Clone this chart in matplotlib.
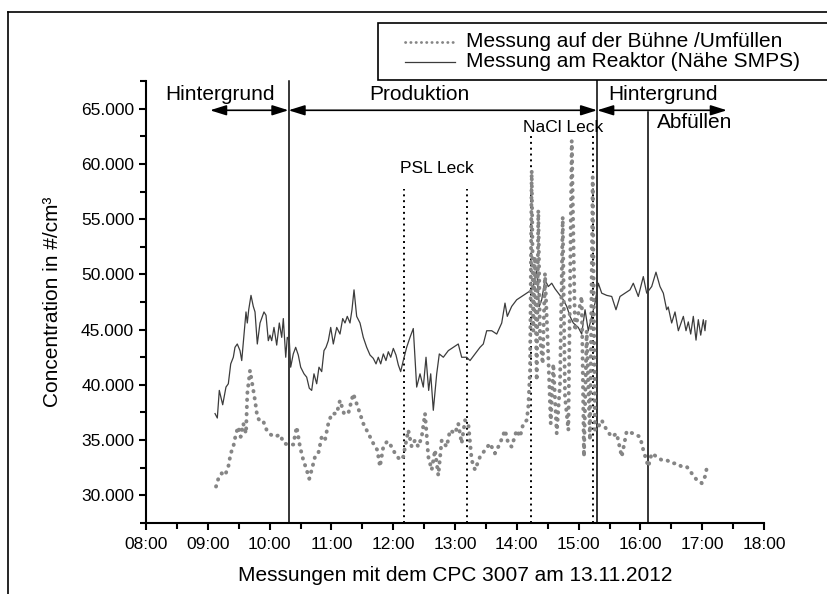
import matplotlib
matplotlib.use("Agg")
import matplotlib.pyplot as plt
from matplotlib.ticker import MultipleLocator, FuncFormatter
from matplotlib.lines import Line2D
from matplotlib.patches import Rectangle

plt.rcParams['font.family'] = ['Liberation Sans', 'DejaVu Sans']

# ---------------- data ----------------
reaktor_t = [9.117, 9.154, 9.186, 9.241, 9.294, 9.332, 9.371, 9.413, 9.440, 9.477, 9.521, 9.549, 9.586,
             9.618, 9.639, 9.662, 9.699, 9.736, 9.764, 9.801, 9.845, 9.909, 9.942, 9.979, 10.006, 10.034,
             10.071, 10.115, 10.157, 10.196, 10.222, 10.261, 10.286, 10.319, 10.341, 10.383, 10.422, 10.464,
             10.503, 10.557, 10.600, 10.642, 10.681, 10.718, 10.762, 10.799, 10.843, 10.880, 10.913, 10.950,
             10.989, 11.031, 11.086, 11.139, 11.183, 11.220, 11.257, 11.301, 11.333, 11.366, 11.409, 11.463,
             11.516, 11.571, 11.625, 11.678, 11.722, 11.759, 11.798, 11.840, 11.883, 11.921, 11.960, 12.002,
             12.045, 12.083, 12.121, 12.163, 12.218, 12.272, 12.325, 12.380, 12.434, 12.487, 12.531, 12.574,
             12.607, 12.649, 12.704, 12.746, 12.811, 12.892, 12.972, 13.053, 13.108, 13.189, 13.243, 13.324,
             13.405, 13.458, 13.513, 13.594, 13.675, 13.756, 13.809, 13.846, 13.917, 13.998, 14.079, 14.160,
             14.241, 14.267, 14.322, 14.364, 14.403, 14.456, 14.510, 14.565, 14.618, 14.672, 14.753, 14.808,
             14.861, 14.914, 14.995, 15.050, 15.104, 15.157, 15.212, 15.265, 15.319, 15.374, 15.455, 15.536,
             15.605, 15.670, 15.751, 15.832, 15.885, 15.966, 16.047, 16.102, 16.183, 16.252, 16.317, 16.371,
             16.425, 16.450, 16.506, 16.560, 16.614, 16.695, 16.738, 16.775, 16.814, 16.856, 16.900, 16.937,
             16.976, 17.018, 17.045, 17.060]
reaktor_v = [37.4, 37.0, 39.5, 38.2, 39.8, 40.1, 41.9, 42.5, 43.4, 43.7, 43.1, 42.2, 44.5,
             46.6, 45.6, 46.8, 48.1, 47.1, 46.6, 43.7, 45.6, 46.6, 46.3, 44.0, 44.5, 44.0,
             45.2, 43.6, 45.6, 44.3, 46.0, 42.5, 44.3, 44.0, 41.6, 42.8, 43.4, 42.7,
             41.6, 41.0, 40.7, 39.7, 39.5, 41.0, 40.1, 41.6, 41.2, 43.1, 43.4, 44.0,
             45.2, 43.7, 45.2, 44.6, 46.0, 45.6, 46.2, 45.6, 46.8, 48.6, 46.2, 45.6,
             44.3, 43.4, 42.7, 42.4, 41.9, 42.5, 41.9, 42.8, 42.2, 43.0, 42.5, 43.3,
             42.7, 41.8, 41.2, 42.2, 43.4, 44.3, 45.1, 39.8, 41.0, 39.8, 42.5, 39.5,
             41.0, 37.7, 41.0, 42.8, 42.5, 43.1, 43.4, 43.7, 42.5, 42.5, 42.2, 42.8,
             43.4, 43.7, 44.9, 44.9, 44.6, 45.6, 47.4, 46.2, 47.1, 47.7, 48.0, 48.3,
             48.6, 48.9, 50.4, 47.1, 47.7, 49.5, 48.9, 49.2, 48.7, 48.3, 47.7, 47.1,
             46.2, 45.6, 45.2, 44.6, 46.8, 44.9, 46.2, 47.4, 49.2, 48.3, 48.1, 48.0,
             46.8, 48.0, 48.3, 48.6, 49.2, 48.0, 49.8, 48.3, 48.9, 50.2, 48.9, 48.3,
             46.8, 47.05, 45.6, 46.6, 44.9, 46.2, 44.9, 45.7, 44.6, 46.2, 44.05, 45.9,
             44.5, 45.9, 44.9, 45.8]

buehne_t = [9.133, 9.170, 9.225, 9.278, 9.332, 9.371, 9.413, 9.456, 9.494, 9.532, 9.574, 9.618, 9.639,
            9.683, 9.727, 9.764, 9.801, 9.845, 9.898, 9.953, 10.018, 10.087, 10.168, 10.233, 10.303,
            10.383, 10.438, 10.492, 10.545, 10.600, 10.642, 10.681, 10.735, 10.788, 10.843, 10.896,
            10.950, 11.005, 11.086, 11.139, 11.204, 11.273, 11.354, 11.409, 11.463, 11.516, 11.571,
            11.625, 11.678, 11.743, 11.786, 11.840, 11.904, 11.976, 12.029, 12.110, 12.163, 12.244,
            12.299, 12.353, 12.406, 12.461, 12.515, 12.568, 12.623, 12.676, 12.730, 12.785, 12.866,
            12.919, 13.000, 13.053, 13.108, 13.162, 13.215, 13.270, 13.324, 13.405, 13.485, 13.566,
            13.647, 13.728, 13.809, 13.862, 13.917, 13.998, 14.052, 14.105, 14.160, 14.186, 14.214,
            14.241, 14.267, 14.294, 14.322, 14.348, 14.375, 14.419, 14.456, 14.510, 14.549, 14.591,
            14.646, 14.699, 14.743, 14.780, 14.834, 14.889, 14.942, 14.995, 15.050, 15.087, 15.131,
            15.184, 15.228, 15.265, 15.319, 15.374, 15.455, 15.536, 15.617, 15.698, 15.778, 15.885,
            15.994, 16.047, 16.128, 16.183, 16.264, 16.344, 16.425, 16.506, 16.587, 16.668, 16.749,
            16.830, 16.911, 16.992, 17.045, 17.083]
buehne_v = [30.8, 31.5, 32.0, 31.8, 32.6, 33.8, 34.4, 35.6, 36.2, 35.3, 36.5, 35.6, 39.2,
            41.3, 39.8, 38.6, 37.1, 36.7, 36.7, 35.9, 35.5, 35.3, 35.5, 34.7, 34.6,
            34.6, 36.2, 34.4, 33.2, 32.3, 31.5, 32.3, 33.5, 33.8, 35.3, 35.0,
            36.5, 37.4, 37.4, 38.6, 37.4, 37.4, 39.2, 38.3, 37.4, 36.5, 35.9,
            35.3, 34.7, 34.1, 32.6, 34.4, 34.9, 34.4, 33.8, 33.2, 33.5, 35.9,
            34.4, 35.0, 34.4, 35.3, 37.4, 33.5, 32.3, 34.1, 31.8, 35.0, 34.4,
            35.9, 35.6, 36.5, 34.7, 36.8, 36.5, 33.2, 32.3, 33.5, 34.1, 34.7,
            33.8, 34.7, 35.9, 34.7, 34.4, 35.9, 35.3, 36.5, 36.8, 38.0, 41.3,
            59.4, 44.9, 51.6, 40.4, 55.8, 44.3, 41.9, 50.1, 42.5, 36.5, 41.9,
            35.6, 40.1, 55.2, 38.9, 35.9, 62.1, 44.9, 46.4, 48.0, 33.5, 44.9,
            35.0, 58.8, 35.9, 36.2, 36.8, 35.9, 35.3, 35.6, 33.5, 35.8, 35.6,
            35.3, 34.1, 32.6, 33.8, 33.5, 33.2, 33.2, 32.9, 32.9, 32.6, 32.6,
            32.0, 31.4, 31.1, 31.7, 32.7]

series_labels = ["Messung auf der Bühne /Umfüllen", "Messung am Reaktor (Nähe SMPS)"]

# event markers (time in hours)
solid_events = [10.306, 15.30, 16.123]
dotted_events = [12.175, 13.194, 14.23, 15.233]
phase_names = ["Hintergrund", "Produktion", "Hintergrund"]
phase_bounds = [(9.036, 10.306), (10.306, 15.30), (15.30, 17.40)]
phase_text_x = [9.197, 12.43, 16.37]

xticks_h = list(range(8, 19))
yticks_v = list(range(30000, 70000, 5000))

# ---------------- figure ----------------
W, H = 827, 594
fig = plt.figure(figsize=(W / 100, H / 100), dpi=100)
ax = fig.add_axes([146 / W, 1 - 523 / H, (764 - 146) / W, (523 - 81) / H])

ax.plot(reaktor_t, [v * 1000 for v in reaktor_v], color='#3c3c3c', lw=0.9, zorder=3)
ax.plot(buehne_t, [v * 1000 for v in buehne_v], color='#858585', lw=2.8,
        linestyle=(0, (0.1, 1.75)), dash_capstyle='round', zorder=4)

ax.set_xlim(8, 18)
ax.set_ylim(27500, 67500)

for s in ['top', 'right']:
    ax.spines[s].set_visible(False)
for s in ['left', 'bottom']:
    ax.spines[s].set_linewidth(1.5)

ax.set_xticks(xticks_h)
ax.xaxis.set_minor_locator(MultipleLocator(0.5))
ax.xaxis.set_major_formatter(FuncFormatter(lambda v, p: "%02d:00" % int(round(v))))
ax.set_yticks(yticks_v)
ax.yaxis.set_minor_locator(MultipleLocator(2500))
ax.yaxis.set_major_formatter(FuncFormatter(lambda v, p: f"{v:,.0f}".replace(",", ".")))
ax.tick_params(axis='both', which='major', direction='out', length=5, width=1.5, labelsize=12.5)
ax.tick_params(axis='both', which='minor', direction='out', length=4, width=1.5)
ax.tick_params(axis='x', which='major', pad=5)

ax.set_xlabel("Messungen mit dem CPC 3007 am 13.11.2012", fontsize=15, labelpad=10)
ax.set_ylabel("Concentration in #/cm³", fontsize=15, labelpad=14)

# vertical event lines
for i, t in enumerate(solid_events):
    top = 67700 if i == 1 else (64650 if i == 2 else 67500)
    ax.plot([t, t], [27500, top], color='black', lw=1.1, clip_on=False, zorder=2)
for i, t in enumerate(dotted_events):
    top = 57700 if i < 2 else 62600
    ax.plot([t, t], [27500, top], color='black', lw=1.4, linestyle=(0, (1, 2)), clip_on=False, zorder=2)

# phase arrows + labels
arrow_y = 64850
for (a, b) in phase_bounds:
    ax.annotate('', xy=(b, arrow_y), xytext=(a, arrow_y), annotation_clip=False,
                arrowprops=dict(arrowstyle='<|-|>,head_length=0.7,head_width=0.22', color='black',
                                lw=1.2, shrinkA=0, shrinkB=0, mutation_scale=14))
for name, x in zip(phase_names, phase_text_x):
    ax.text(x, 66250, name, fontsize=15, ha='center', va='center', clip_on=False)
ax.text(16.875, 63750, "Abfüllen", fontsize=15, ha='center', va='center', clip_on=False)
ax.text(14.756, 63300, "NaCl Leck", fontsize=12.5, ha='center', va='center', clip_on=False)
ax.text(12.70, 59600, "PSL Leck", fontsize=12.5, ha='center', va='center', clip_on=False)

# figure border
fig.add_artist(Line2D([8 / W, 8 / W], [0, 1 - 12 / H], transform=fig.transFigure, color='black', lw=1.2))
fig.add_artist(Line2D([8 / W, 1], [1 - 12 / H, 1 - 12 / H], transform=fig.transFigure, color='black', lw=1.2))

# legend box (manual, extends past right edge like the original)
fig.add_artist(Rectangle((378 / W, 1 - 80 / H), (860 - 378) / W, (80 - 23) / H, transform=fig.transFigure,
                         facecolor='white', edgecolor='black', lw=1.2, zorder=10))
rows_y = [41.5, 61.5]
fig.add_artist(Line2D([405 / W, 455 / W], [1 - rows_y[0] / H] * 2, transform=fig.transFigure,
                      color='#858585', lw=2.0, linestyle=(0, (0.1, 1.8)), dash_capstyle='round', zorder=11))
fig.add_artist(Line2D([405 / W, 455 / W], [1 - rows_y[1] / H] * 2, transform=fig.transFigure,
                      color='#3c3c3c', lw=0.9, zorder=11))
for lab, yy in zip(series_labels, rows_y):
    fig.text(466 / W, 1 - yy / H, lab, fontsize=15, ha='left', va='center', zorder=12)

fig.savefig("out.png", dpi=100)
